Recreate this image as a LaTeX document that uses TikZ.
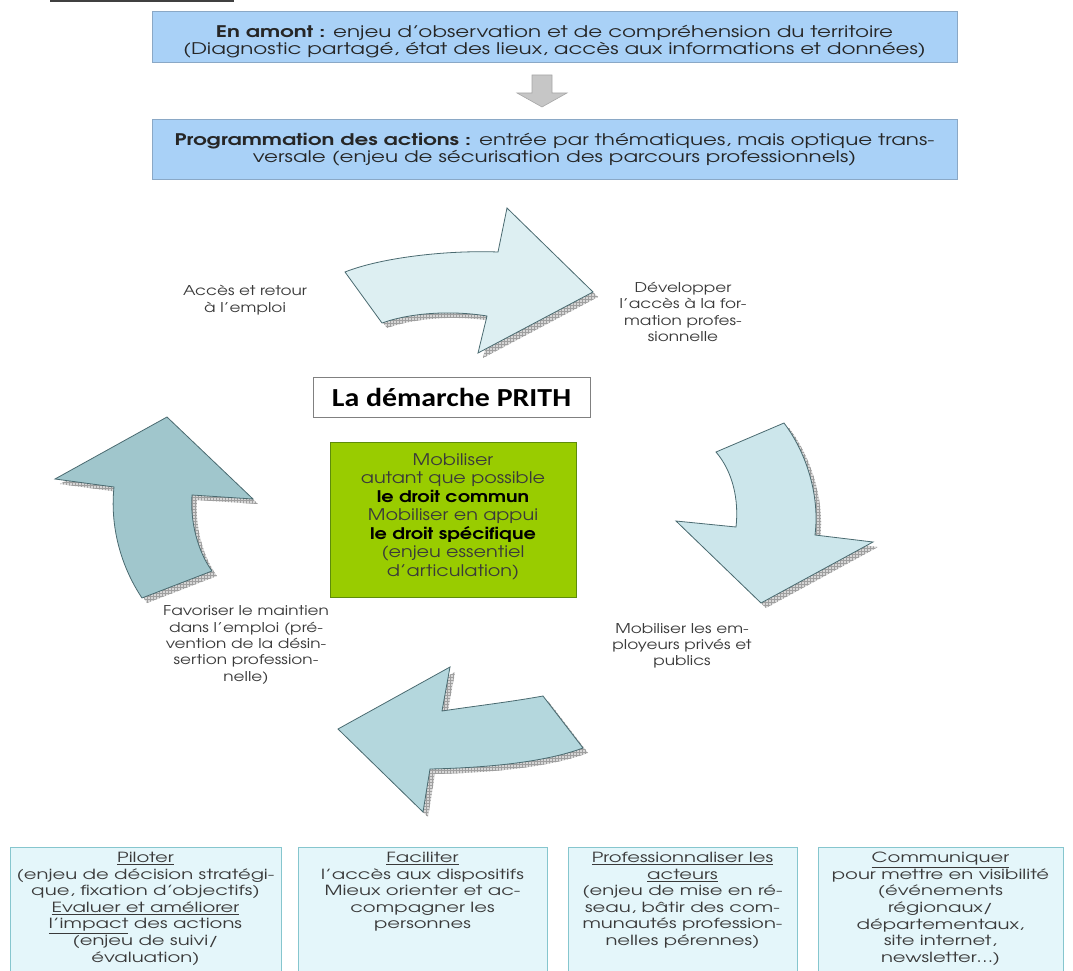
\documentclass[tikz,border=0pt]{standalone}
\usepackage{fontspec}
\setmainfont{texgyreadventor}[Extension=.otf, UprightFont=*-regular, BoldFont=*-bold, FakeStretch=1.2]
\newfontfamily\topfont{texgyreadventor}[Extension=.otf, UprightFont=*-regular, BoldFont=*-bold, FakeStretch=1.34]
\newfontfamily\botfont{texgyreadventor}[Extension=.otf, UprightFont=*-regular, BoldFont=*-bold, FakeStretch=1.4]
\newfontfamily\lblfont{texgyreadventor}[Extension=.otf, UprightFont=*-regular, BoldFont=*-bold, FakeStretch=1.25]
\newfontfamily\prithfont{Carlito}[FakeStretch=1.15]
\usetikzlibrary{patterns}
\definecolor{topblue}{HTML}{A9D1F7}
\definecolor{topborder}{HTML}{8AA8C6}
\definecolor{arrline}{HTML}{4A6A70}
\definecolor{arrA}{HTML}{DDEFF2}
\definecolor{arrB}{HTML}{CCE6EB}
\definecolor{arrC}{HTML}{B4D7DD}
\definecolor{arrD}{HTML}{A0C6CC}
\definecolor{greenfill}{HTML}{99CC00}
\definecolor{greenline}{HTML}{5E8C0A}
\definecolor{botfill}{HTML}{E4F6FA}
\definecolor{botline}{HTML}{86C6CE}
\definecolor{txt}{HTML}{3A3A3A}
\begin{document}
\begin{tikzpicture}[x=1pt,y=-1pt,
  topbox/.style={draw=topborder, fill=topblue, line width=0.8pt, inner sep=0pt, minimum width=805pt},
  toptxt/.style={align=center, text=black!85, font=\topfont\fontsize{16}{17}\selectfont, inner sep=0pt},
  prithbox/.style={draw=black!50, fill=white, line width=0.6pt, font=\prithfont\bfseries\fontsize{26}{30}\selectfont},
  greenbox/.style={draw=greenline, fill=greenfill, line width=0.8pt, align=center, text=txt,
    font=\fontsize{16}{18.5}\selectfont},
  lbl/.style={align=center, text=txt, font=\lblfont\fontsize{13.5}{16.3}\selectfont, inner sep=0pt},
  botbox/.style={draw=botline, fill=botfill, line width=0.8pt},
  bottxt/.style={align=center, text=txt, font=\botfont\fontsize{14}{16.6}\selectfont, inner sep=0pt, anchor=north},
  arrshape/.style={draw=arrline, line width=0.8pt, line join=miter},
  shadowA/.style={fill=gray!32},
  shadowB/.style={pattern=grid, pattern color=gray!75},
  pathtop/.style={insert path={(345,272) .. controls (380,258) and (445,250) .. (498,252) -- (507,208) -- (593,292) -- (478,353) -- (487,316) .. controls (450,310) and (410,313) .. (382,323) -- cycle}},
  pathright/.style={insert path={(716,452) -- (784,423) .. controls (806,452) and (820,495) .. (815,535) -- (873,542) -- (761,603) -- (676,521) -- (736,527) .. controls (739,500) and (733,472) .. (716,452) -- cycle}},
  pathbottom/.style={insert path={(543,696) .. controls (510,702) and (475,706) .. (442,711) -- (450,667) -- (338,729) -- (423,812) -- (430,769) .. controls (475,768) and (540,764) .. (583,748) -- cycle}},
  pathleft/.style={insert path={(167,417) -- (253,499) -- (192,495) .. controls (190,522) and (198,552) .. (212,571) -- (142,598) .. controls (120,565) and (110,525) .. (114,487) -- (55,479) -- cycle}},
]
\useasboundingbox (0,0) rectangle (1073,971);
\clip (0,0) rectangle (1073,971);

% title underline (cut off at top)
\draw[line width=2pt, black!75] (50,1.5) -- (234,1.5);

% top boxes
\node[topbox, minimum height=51pt] (amont) at (554.5,36.5) {};
\node[toptxt] (amonttxt) at ([yshift=-5pt]amont.center)
  {\textbf{En amont :} enjeu d’observation et de compréhension du territoire\\(Diagnostic partagé, état des lieux, accès aux informations et données)};
\node[topbox, minimum height=60pt] (prog) at (554.5,149.5) {};
\node[toptxt] (progtxt) at ([yshift=0pt]prog.center)
  {\textbf{Programmation des actions :} entrée par thématiques, mais optique trans-\\versale (enjeu de sécurisation des parcours professionnels)};

% grey block arrow between boxes
\draw[fill=gray!45, draw=gray!70, line width=0.6pt]
  (532,75) -- (552,75) -- (552,93) -- (567,93) -- (542,107) -- (517,93) -- (532,93) -- cycle;

% cycle arrows: shadows
\foreach \p in {pathtop,pathright,pathbottom,pathleft}{
  \fill[shadowA, shift={(5,5)}, \p];
  \fill[shadowB, shift={(5,5)}, \p];
}
\filldraw[arrshape, fill=arrA, pathtop];
\filldraw[arrshape, fill=arrB, pathright];
\filldraw[arrshape, fill=arrC, pathbottom];
\filldraw[arrshape, fill=arrD, pathleft];

% labels around the cycle
\node[lbl] (acces) at (245,300) {Accès et retour\\à l’emploi};
\node[lbl] (dev) at (683,312) {Développer\\l’accès à la for-\\mation profes-\\sionnelle};
\node[lbl] (employeurs) at (682,646) {Mobiliser les em-\\ployeurs privés et\\publics};
\node[lbl] (maintien) at (246,645) {Favoriser le maintien\\dans l’emploi (pré-\\vention de la désin-\\sertion profession-\\nelle)};

% centre
\node[prithbox, minimum width=277pt, minimum height=40pt, inner sep=0pt] (prith) at (451.5,397) {La démarche PRITH};
\node[greenbox, minimum width=246pt, minimum height=155pt, inner sep=0pt] (droit) at (453,519.5) {};
\node[greenbox, draw=none, fill=none, inner sep=0pt] (droittxt) at ([yshift=3pt]droit.center)
  {Mobiliser\\autant que possible\\\textcolor{black}{\textbf{le droit commun}}\\Mobiliser en appui\\\textcolor{black}{\textbf{le droit spécifique}}\\(enjeu essentiel\\d’articulation)};

% bottom boxes
\node[botbox, minimum width=271pt, minimum height=150pt, anchor=north, inner sep=0pt] (b1) at (145.5,847) {};
\node[botbox, minimum width=249pt, minimum height=150pt, anchor=north, inner sep=0pt] (b2) at (422.5,847) {};
\node[botbox, minimum width=229pt, minimum height=150pt, anchor=north, inner sep=0pt] (b3) at (682.5,847) {};
\node[botbox, minimum width=245pt, minimum height=150pt, anchor=north, inner sep=0pt] (b4) at (940.5,847) {};

\node[bottxt] (t1) at ([yshift=-5pt]b1.north)
  {\underline{Piloter}\\(enjeu de décision stratégi-\\que, fixation d’objectifs)\\\underline{Evaluer et améliorer}\\\underline{l’impact} des actions\\(enjeu de suivi/\\évaluation)};
\node[bottxt] (t2) at ([yshift=-5pt]b2.north)
  {\underline{Faciliter}\\l’accès aux dispositifs\\Mieux orienter et ac-\\compagner les\\personnes};
\node[bottxt] (t3) at ([yshift=-5pt]b3.north)
  {\underline{Professionnaliser les}\\\underline{acteurs}\\(enjeu de mise en ré-\\seau, bâtir des com-\\munautés profession-\\nelles pérennes)};
\node[bottxt] (t4) at ([yshift=-5pt]b4.north)
  {\underline{Communiquer}\\pour mettre en visibilité\\(événements\\régionaux/\\départementaux,\\site internet,\\newsletter…)};
\end{tikzpicture}
\end{document}
